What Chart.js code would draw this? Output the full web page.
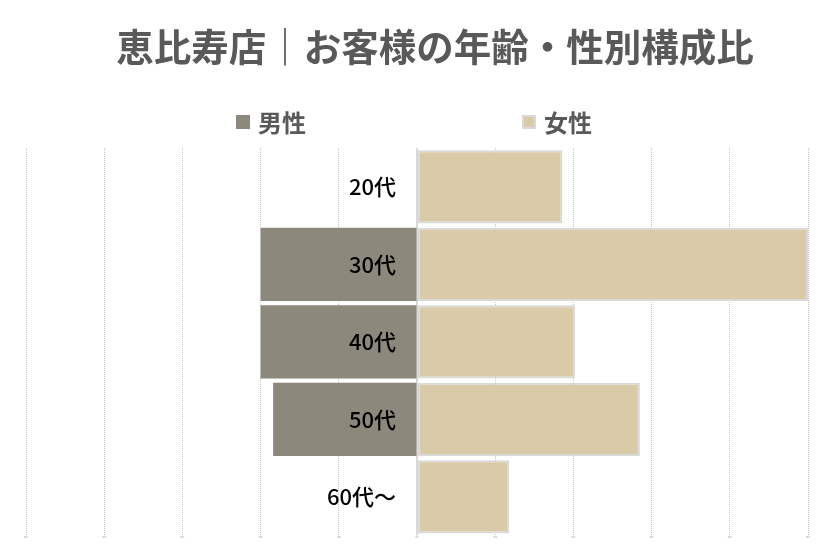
<!DOCTYPE html>
<html>
<head>
<meta charset="utf-8">
<script src="https://cdn.jsdelivr.net/npm/chart.js@4"></script>
<style>
  html, body { margin: 0; padding: 0; background: #ffffff; }
  #wrap { width: 834px; height: 549px; position: relative; }
</style>
</head>
<body>
<div id="wrap"><canvas id="c"></canvas></div>
<script>
const titleText = '恵比寿店｜お客様の年齢・性別構成比';
const categories = ['20代', '30代', '40代', '50代', '60代～'];
const seriesNames = ['男性', '女性'];
const maleValues = [0, 20.0, 20.0, 18.4, 0];
const femaleValues = [18.6, 50.0, 20.2, 28.5, 11.8];
const axisMin = -50;
const axisMax = 50;
const axisStep = 10;

const FONT = "'Noto Sans CJK JP', 'Noto Sans', sans-serif";
const MALE_COLOR = '#8c887c';
const FEMALE_COLOR = '#dacba8';
const FEMALE_BORDER = '#d9d9d9';

const decor = {
  id: 'decor',
  beforeDatasetsDraw(chart) {
    const {ctx, chartArea, scales} = chart;
    const x0 = scales.x.getPixelForValue(0);
    ctx.save();
    ctx.strokeStyle = FEMALE_BORDER;
    ctx.lineWidth = 2;
    ctx.beginPath();
    ctx.moveTo(x0, chartArea.top);
    ctx.lineTo(x0, chartArea.bottom);
    ctx.stroke();
    ctx.restore();
  },
  afterDatasetsDraw(chart) {
    const {ctx, scales} = chart;
    const x0 = scales.x.getPixelForValue(0);
    ctx.save();
    ctx.font = '500 22px ' + FONT;
    ctx.fillStyle = '#000000';
    ctx.textAlign = 'right';
    ctx.textBaseline = 'middle';
    chart.data.labels.forEach((lab, i) => {
      const y = scales.y.getPixelForValue(i);
      ctx.fillText(lab, x0 - 21, y);
    });
    ctx.restore();
  },
  afterDraw(chart) {
    const {ctx} = chart;
    const W = chart.width;
    ctx.save();
    // title
    ctx.font = 'bold 37.5px ' + FONT;
    ctx.fillStyle = '#595959';
    ctx.textAlign = 'center';
    ctx.textBaseline = 'middle';
    ctx.fillText(titleText, W / 2 + 18, 47);
    // legend
    ctx.font = 'bold 24px ' + FONT;
    ctx.textAlign = 'left';
    const box = 14, gapText = 8, itemGap = 216;
    const items = chart.data.datasets.map(ds => ({
      text: ds.label, fill: ds.backgroundColor, border: ds.borderWidth ? ds.borderColor : null,
      w: box + gapText + ctx.measureText(ds.label).width
    }));
    const total = items.reduce((s, it) => s + it.w, 0) + itemGap * (items.length - 1);
    let x = W / 2 - total / 2 - 3;
    const yc = 122;
    items.forEach(it => {
      ctx.fillStyle = it.fill;
      ctx.fillRect(x, yc - box / 2, box, box);
      if (it.border) {
        ctx.strokeStyle = it.border;
        ctx.lineWidth = 2;
        ctx.strokeRect(x + 1, yc - box / 2 + 1, box - 2, box - 2);
      }
      ctx.fillStyle = '#595959';
      ctx.fillText(it.text, x + box + gapText, yc + 1);
      x += it.w + itemGap;
    });
    ctx.restore();
  }
};

new Chart(document.getElementById('c'), {
  type: 'bar',
  data: {
    labels: categories,
    datasets: [
      {
        label: seriesNames[0],
        data: maleValues.map(v => -v),
        backgroundColor: MALE_COLOR,
        borderWidth: 0,
        barPercentage: 0.945,
        categoryPercentage: 1.0
      },
      {
        label: seriesNames[1],
        data: femaleValues,
        backgroundColor: FEMALE_COLOR,
        borderColor: FEMALE_BORDER,
        borderWidth: 2,
        borderSkipped: false,
        barPercentage: 0.945,
        categoryPercentage: 1.0
      }
    ]
  },
  options: {
    indexAxis: 'y',
    responsive: true,
    maintainAspectRatio: false,
    animation: false,
    devicePixelRatio: 1,
    layout: { padding: { top: 148, left: 26, right: 26, bottom: 11 } },
    plugins: {
      legend: { display: false },
      title: { display: false },
      tooltip: { enabled: false }
    },
    scales: {
      x: {
        stacked: true,
        min: axisMin,
        max: axisMax,
        ticks: {
          stepSize: axisStep,
          font: { size: 2, family: FONT },
          color: '#888888',
          padding: 0,
          maxRotation: 0,
          autoSkip: false,
          callback: v => Math.abs(v) + '%'
        },
        grid: {
          color: '#c4c4c4',
          lineWidth: 1,
          drawTicks: false
        },
        border: { display: false, dash: [1, 1] }
      },
      y: {
        stacked: true,
        display: false,
        grid: { display: false }
      }
    }
  },
  plugins: [decor]
});
</script>
</body>
</html>
